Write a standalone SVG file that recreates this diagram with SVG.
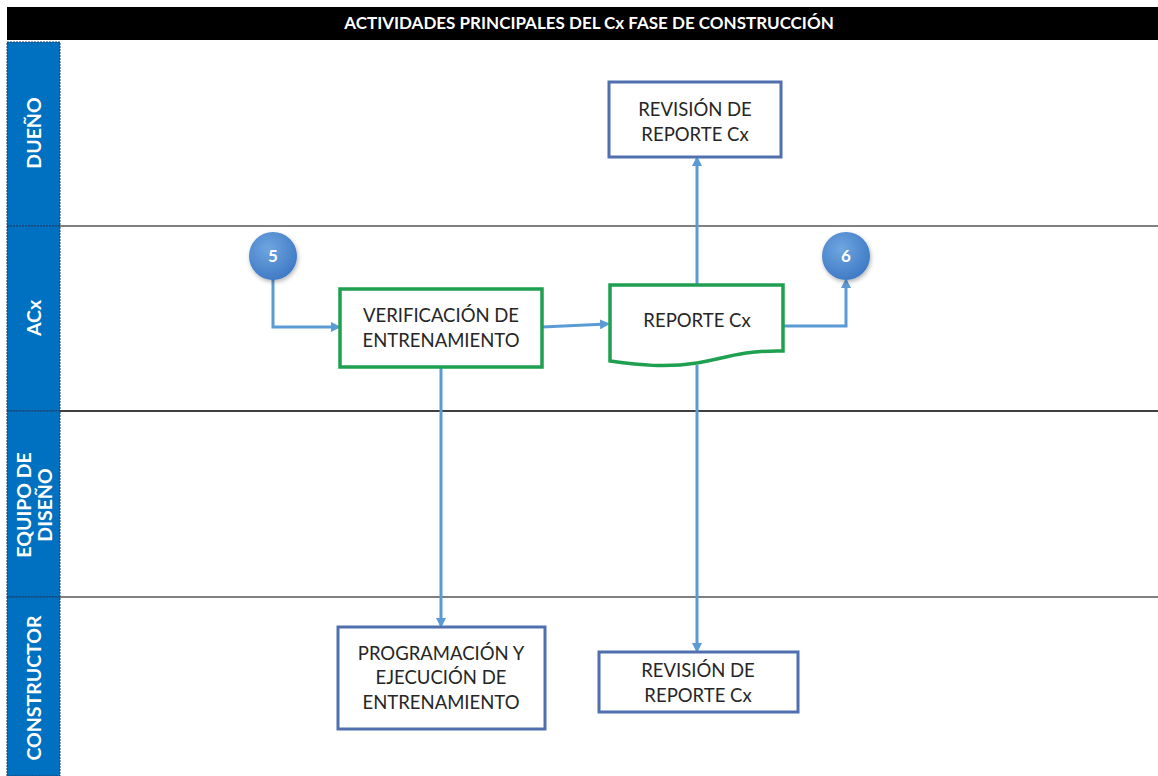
<svg xmlns="http://www.w3.org/2000/svg" width="1158" height="776" viewBox="0 0 1158 776">
<defs>
<marker id="ah" markerWidth="10" markerHeight="10" refX="7" refY="5" orient="auto" markerUnits="userSpaceOnUse" viewBox="0 0 10 10">
<path d="M0,0 L10,5 L0,10 z" fill="#5B9BD5"/>
</marker>
<radialGradient id="cg" cx="0.4" cy="0.35" r="0.7">
<stop offset="0" stop-color="#6FA6E0"/>
<stop offset="1" stop-color="#3D78C4"/>
</radialGradient>
<filter id="sh" x="-30%" y="-30%" width="160%" height="160%">
<feDropShadow dx="1" dy="2" stdDeviation="2" flood-color="#000" flood-opacity="0.3"/>
</filter>
</defs>
<style>
.lane{fill:#0070C0;stroke:#1F3F66;stroke-width:1;stroke-dasharray:2 1}
.ll{font-family:"Lato","Open Sans",sans-serif;font-weight:bold;font-size:19.5px;fill:#fff;text-anchor:middle}
.t{font-family:"Lato","Open Sans",sans-serif;font-size:18.5px;fill:#262626;text-anchor:middle}
.bx{fill:#fff;stroke:#4F6FAF;stroke-width:3}
.gx{fill:#fff;stroke:#1EA050;stroke-width:3.5}
.c{stroke:#5B9BD5;stroke-width:3;fill:none;marker-end:url(#ah)}
.ct{font-family:"Lato","Open Sans",sans-serif;font-weight:bold;font-size:17px;fill:#fff;text-anchor:middle}
</style>
<rect width="1158" height="776" fill="#fff"/>
<rect x="7" y="7" width="1151" height="33" fill="#000"/>
<text x="589" y="29" font-family="Lato,'Open Sans',sans-serif" font-weight="bold" font-size="17" fill="#fff" text-anchor="middle">ACTIVIDADES PRINCIPALES DEL Cx FASE DE CONSTRUCCIÓN</text>
<g id="lanes">
<line x1="60" y1="226" x2="1158" y2="226" stroke="#808080" stroke-width="2"/>
<line x1="60" y1="411" x2="1158" y2="411" stroke="#000" stroke-width="1.5"/>
<line x1="60" y1="597" x2="1158" y2="597" stroke="#808080" stroke-width="2"/>
<rect class="lane" x="7" y="42" width="53" height="184"/>
<rect class="lane" x="7" y="226" width="53" height="185"/>
<rect class="lane" x="7" y="411" width="53" height="186"/>
<rect class="lane" x="7" y="597" width="53" height="179"/>
<text class="ll" transform="translate(41,133) rotate(-90)">DUEÑO</text>
<text class="ll" transform="translate(41,318) rotate(-90)">ACx</text>
<text class="ll" transform="translate(31,505) rotate(-90)">EQUIPO DE</text>
<text class="ll" transform="translate(52,505) rotate(-90)">DISEÑO</text>
<text class="ll" transform="translate(41,688) rotate(-90)">CONSTRUCTOR</text>
</g>
<g id="connectors">
<path class="c" d="M273,279 L273,327 L338,327"/>
<path class="c" d="M542,327 L607,324"/>
<path class="c" d="M783,326 L846,326 L846,281"/>
<path class="c" d="M697,285 L697,159"/>
<path class="c" d="M697,365 L697,650"/>
<path class="c" d="M441,368 L441,625"/>
</g>
<g id="n-revision-top">
<rect class="bx" x="609" y="82" width="172" height="75"/>
<text class="t" x="695" y="116">REVISIÓN DE</text>
<text class="t" x="695" y="141">REPORTE Cx</text>
</g>
<g id="n-5">
<circle cx="273" cy="256" r="24" fill="url(#cg)" filter="url(#sh)"/>
<text class="ct" x="273" y="262">5</text>
</g>
<g id="n-verificacion">
<rect class="gx" x="340" y="289" width="202" height="78"/>
<text class="t" x="441" y="322">VERIFICACIÓN DE</text>
<text class="t" x="441" y="347">ENTRENAMIENTO</text>
</g>
<g id="n-reporte">
<path class="gx" d="M610,285 L783,285 L783,351 C740,350 720,360 697,363 C665,368 640,365 610,361 Z"/>
<text class="t" x="697" y="327">REPORTE Cx</text>
</g>
<g id="n-6">
<circle cx="846" cy="256" r="24" fill="url(#cg)" filter="url(#sh)"/>
<text class="ct" x="846" y="262">6</text>
</g>
<g id="n-programacion">
<rect class="bx" x="338" y="627" width="207" height="102"/>
<text class="t" x="441" y="660">PROGRAMACIÓN Y</text>
<text class="t" x="441" y="684">EJECUCIÓN DE</text>
<text class="t" x="441" y="709">ENTRENAMIENTO</text>
</g>
<g id="n-revision-bottom">
<rect class="bx" x="599" y="652" width="199" height="60"/>
<text class="t" x="698" y="677">REVISIÓN DE</text>
<text class="t" x="698" y="702">REPORTE Cx</text>
</g>
</svg>
